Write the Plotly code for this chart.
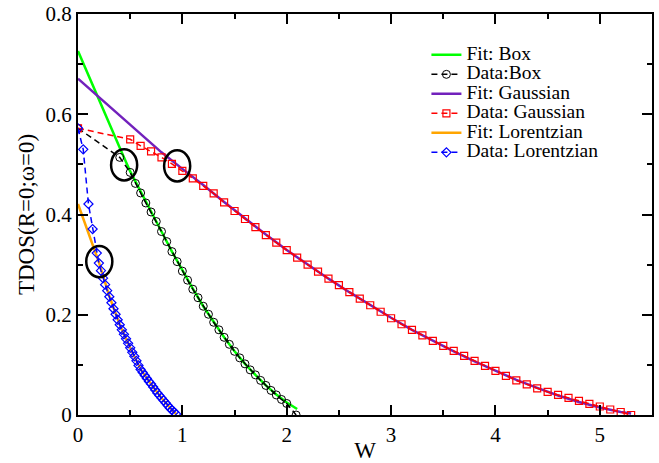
import plotly.graph_objects as go

# ---------------- data ----------------
box_fit_w = [0, 0.1, 0.2, 0.3, 0.4, 0.5, 0.6, 0.7, 0.8, 0.9, 1.0, 1.1, 1.2, 1.3, 1.4,
             1.5, 1.6, 1.7, 1.8, 1.9, 2.0, 2.1]
box_fit_y = [0.726, 0.677, 0.628, 0.580, 0.533, 0.486, 0.445, 0.405, 0.366, 0.326, 0.288,
             0.252, 0.217, 0.185, 0.155, 0.127, 0.102, 0.080, 0.059, 0.041, 0.025, 0.012]

box_w = [0, 0.4, 0.5, 0.55, 0.6, 0.65, 0.7, 0.75, 0.8, 0.85, 0.9, 0.95, 1.0, 1.05, 1.1,
         1.15, 1.2, 1.25, 1.3, 1.35, 1.4, 1.45, 1.5, 1.55, 1.6, 1.65, 1.7, 1.75, 1.8,
         1.85, 1.9, 1.95, 2.0, 2.09]
box_y = [0.572, 0.514, 0.484, 0.462, 0.443, 0.423, 0.405, 0.386, 0.366, 0.346, 0.326,
         0.306, 0.287, 0.269, 0.251, 0.234, 0.217, 0.201, 0.185, 0.170, 0.155, 0.141,
         0.127, 0.114, 0.102, 0.090, 0.080, 0.069, 0.059, 0.049, 0.040, 0.031, 0.023, 0.0]

gauss_fit_w = [0, 0.2, 0.4, 0.6, 0.8, 1.0, 1.2, 1.4, 1.6, 1.8, 2.0, 2.2, 2.4, 2.6, 2.8,
               3.0, 3.2, 3.4, 3.6, 3.8, 4.0, 4.2, 4.4, 4.6, 4.8, 5.0, 5.2, 5.3]
gauss_fit_y = [0.671, 0.634, 0.597, 0.560, 0.524, 0.491, 0.459, 0.425, 0.392, 0.360,
               0.329, 0.300, 0.272, 0.245, 0.219, 0.194, 0.170, 0.148, 0.127, 0.107,
               0.088, 0.070, 0.054, 0.039, 0.026, 0.015, 0.006, 0.003]

gauss_w = [0, 0.5, 0.6, 0.7, 0.8, 0.9, 1.0, 1.1, 1.2, 1.3, 1.4, 1.5, 1.6, 1.7, 1.8, 1.9,
           2.0, 2.1, 2.2, 2.3, 2.4, 2.5, 2.6, 2.7, 2.8, 2.9, 3.0, 3.1, 3.2, 3.3, 3.4,
           3.5, 3.6, 3.7, 3.8, 3.9, 4.0, 4.1, 4.2, 4.3, 4.4, 4.5, 4.6, 4.7, 4.8, 4.9,
           5.0, 5.1, 5.2, 5.3]
gauss_y = [0.572, 0.550, 0.537, 0.526, 0.514, 0.501, 0.487, 0.472, 0.457, 0.442, 0.424,
           0.407, 0.391, 0.375, 0.359, 0.344, 0.329, 0.314, 0.300, 0.286, 0.272, 0.259,
           0.245, 0.232, 0.219, 0.206, 0.193, 0.181, 0.170, 0.159, 0.148, 0.138, 0.128,
           0.118, 0.108, 0.098, 0.088, 0.078, 0.069, 0.061, 0.053, 0.046, 0.040, 0.034,
           0.028, 0.022, 0.017, 0.011, 0.006, 0.0]

lor_fit_w = [0, 0.1, 0.2, 0.3, 0.4, 0.5, 0.6, 0.7, 0.8, 0.9, 0.94]
lor_fit_y = [0.421, 0.363, 0.305, 0.237, 0.180, 0.134, 0.091, 0.062, 0.034, 0.010, 0.002]

lor_w = [0, 0.05, 0.10, 0.14, 0.18, 0.20, 0.22, 0.24, 0.26, 0.28, 0.30, 0.32, 0.34, 0.36,
         0.38, 0.40, 0.42, 0.44, 0.46, 0.48, 0.50, 0.52, 0.54, 0.56, 0.58, 0.60, 0.62,
         0.64, 0.66, 0.68, 0.70, 0.72, 0.74, 0.76, 0.78, 0.80, 0.82, 0.84, 0.86, 0.88,
         0.90, 0.92, 0.94]
lor_y = [0.572, 0.530, 0.421, 0.371, 0.323, 0.303, 0.288, 0.273, 0.260, 0.248, 0.236,
         0.224, 0.212, 0.201, 0.190, 0.180, 0.170, 0.161, 0.152, 0.143, 0.134, 0.125,
         0.117, 0.108, 0.099, 0.091, 0.085, 0.079, 0.073, 0.067, 0.062, 0.056, 0.050,
         0.044, 0.039, 0.034, 0.029, 0.024, 0.019, 0.014, 0.010, 0.006, 0.002]

# highlighted crossover points (centre W, centre TDOS)
circle_centres = [(0.442, 0.499), (0.950, 0.497), (0.204, 0.306)]
circle_half_w = 0.125
circle_half_h = 0.031

FONT = "Liberation Serif"
LEG_TXT = '<span style="font-size:19.5px">{}</span>'

fig = go.Figure()

fig.add_trace(go.Scatter(x=box_fit_w, y=box_fit_y, mode="lines",
                         line=dict(color="#00ff00", width=2.5),
                         name=LEG_TXT.format("Fit: Box")))
fig.add_trace(go.Scatter(x=box_w, y=box_y, mode="lines+markers",
                         line=dict(color="black", width=1.5, dash="6px,4px"),
                         marker=dict(symbol="circle-open", size=8, color="black",
                                     line=dict(width=1)),
                         name=LEG_TXT.format("Data:Box")))
fig.add_trace(go.Scatter(x=gauss_fit_w, y=gauss_fit_y, mode="lines",
                         line=dict(color="#7221bc", width=2.5),
                         name=LEG_TXT.format("Fit: Gaussian")))
fig.add_trace(go.Scatter(x=gauss_w, y=gauss_y, mode="lines+markers",
                         line=dict(color="#ff0000", width=1.5, dash="6px,4px"),
                         marker=dict(symbol="square-open", size=7, color="#ff0000",
                                     line=dict(width=1.2)),
                         name=LEG_TXT.format("Data: Gaussian")))
fig.add_trace(go.Scatter(x=lor_fit_w, y=lor_fit_y, mode="lines",
                         line=dict(color="#ffa500", width=2.5),
                         name=LEG_TXT.format("Fit: Lorentzian")))
fig.add_trace(go.Scatter(x=lor_w, y=lor_y, mode="lines+markers",
                         line=dict(color="#0000ff", width=1.5, dash="6px,4px"),
                         marker=dict(symbol="diamond-open", size=7, color="#0000ff",
                                     line=dict(width=1.2)),
                         name=LEG_TXT.format("Data: Lorentzian")))

for cx, cy in circle_centres:
    fig.add_shape(type="circle", xref="x", yref="y",
                  x0=cx - circle_half_w, x1=cx + circle_half_w,
                  y0=cy - circle_half_h, y1=cy + circle_half_h,
                  line=dict(color="black", width=2.5))

axis_common = dict(showline=True, linewidth=2, linecolor="black", mirror="ticks",
                   ticks="inside", ticklen=10, tickwidth=2, tickcolor="black",
                   showgrid=False, zeroline=False, automargin=False,
                   tickfont=dict(family=FONT, size=21, color="black"))

fig.update_xaxes(range=[0, 5.5], dtick=1, tick0=0,
                 minor=dict(dtick=0.5, ticklen=5, tickwidth=2, ticks="inside",
                            tickcolor="black", showgrid=False),
                 title=dict(text="W", font=dict(family=FONT, size=23, color="black"),
                            standoff=0),
                 **axis_common)
fig.update_yaxes(range=[0, 0.8], dtick=0.2, tick0=0,
                 minor=dict(dtick=0.1, ticklen=5, tickwidth=2, ticks="inside",
                            tickcolor="black", showgrid=False),
                 title=dict(text="TDOS(R=0;ω=0)",
                            font=dict(family=FONT, size=23, color="black"),
                            standoff=4),
                 **axis_common)

fig.update_layout(
    width=659, height=463,
    margin=dict(l=78, r=7, t=14, b=48),
    paper_bgcolor="white", plot_bgcolor="white",
    font=dict(family=FONT, color="black"),
    legend=dict(x=0.607, y=0.935, xanchor="left", yanchor="top",
                bgcolor="rgba(0,0,0,0)", borderwidth=0,
                font=dict(family=FONT, size=12.7, color="black"),
                itemwidth=30, tracegroupgap=0),
    showlegend=True,
)

fig.write_html("out.html")
